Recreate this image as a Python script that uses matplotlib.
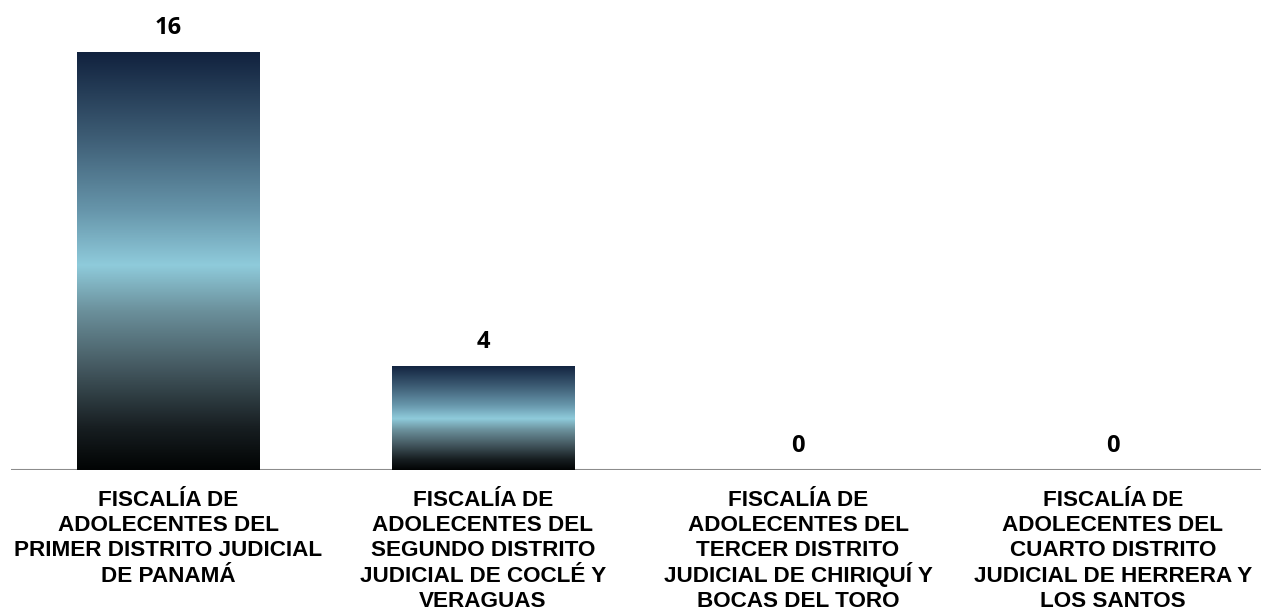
import matplotlib.pyplot as plt
import numpy as np
from matplotlib.colors import LinearSegmentedColormap
from matplotlib.patches import Rectangle

categorias = [
    "FISCALÍA DE\nADOLECENTES DEL\nPRIMER DISTRITO JUDICIAL\nDE PANAMÁ",
    "FISCALÍA DE\nADOLECENTES DEL\nSEGUNDO DISTRITO\nJUDICIAL DE COCLÉ Y\nVERAGUAS",
    "FISCALÍA DE\nADOLECENTES DEL\nTERCER DISTRITO\nJUDICIAL DE CHIRIQUÍ Y\nBOCAS DEL TORO",
    "FISCALÍA DE\nADOLECENTES DEL\nCUARTO DISTRITO\nJUDICIAL DE HERRERA Y\nLOS SANTOS",
]
valores = [16, 4, 0, 0]

# degradado vertical de las barras (abajo -> arriba)
cmap = LinearSegmentedColormap.from_list("barra", [
    (0.0, "#020404"), (0.1, "#171e21"), (0.25, "#465b63"), (0.38, "#6b909b"),
    (0.49, "#8fcbdb"), (0.62, "#6796ab"), (0.8, "#3d5c74"), (1.0, "#11223e")])

fig = plt.figure(figsize=(12.61, 6.13), dpi=100)
ax = fig.add_axes([10.5 / 1261, 143 / 613, 1260 / 1261, 470 / 613])

ancho = 0.578
grad = np.linspace(0, 1, 256).reshape(-1, 1)
x = np.arange(len(valores))
for i, v in zip(x, valores):
    if v > 0:
        im = ax.imshow(grad, cmap=cmap, origin="lower", aspect="auto",
                       extent=[i - ancho / 2, i + ancho / 2, 0, v], zorder=2)
        rect = Rectangle((i - ancho / 2, 0), ancho, v, transform=ax.transData)
        im.set_clip_path(rect)
    ax.annotate(str(v), xy=(i, v), xytext=(0, 18), textcoords="offset pixels",
                ha="center", va="baseline", fontsize=17, fontweight="bold",
                family=["Open Sans", "DejaVu Sans"])

# etiquetas de categoria, una linea a la vez para un interlineado fijo
for i, etiqueta in zip(x, categorias):
    for j, linea in enumerate(etiqueta.split("\n")):
        ax.annotate(linea, xy=(i, 0), xycoords=("data", "axes fraction"),
                    xytext=(0, -36 - 25.2 * j), textcoords="offset pixels",
                    ha="center", va="baseline", fontsize=16.2,
                    fontweight="bold", family="Liberation Sans",
                    annotation_clip=False)

ax.set_xlim(-0.5, 3.5)
ax.set_ylim(0, 18)
ax.axhline(0, color="#8c8c8c", lw=1.5, zorder=1)
for s in ax.spines.values():
    s.set_visible(False)
ax.set_yticks([])
ax.set_xticks([])

fig.savefig("out.png", dpi=100)
